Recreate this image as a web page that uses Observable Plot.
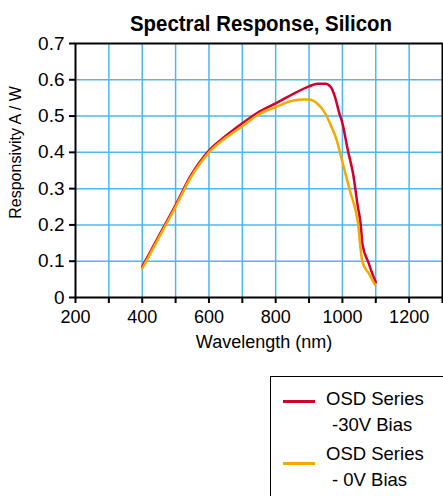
<!DOCTYPE html>
<html>
<head>
<meta charset="utf-8">
<script src="https://cdn.jsdelivr.net/npm/d3@7"></script>
<script src="https://cdn.jsdelivr.net/npm/@observablehq/plot@0.6"></script>
<style>
  html, body { margin: 0; padding: 0; background: #fff; }
  body { width: 443px; height: 496px; position: relative; overflow: hidden; font-family: "Liberation Sans", Arial, Helvetica, sans-serif; }
  #legend { position: absolute; left: 270px; top: 376px; width: 200px; height: 140px; border: 1px solid #000; box-sizing: border-box; background: #fff; }
  .sw { position: absolute; left: 12px; width: 32px; height: 3px; }
  .lt { position: absolute; left: 55px; font-size: 18.5px; line-height: 20px; white-space: nowrap; color: #000; }
</style>
</head>
<body>
<div id="chart"></div>
<div id="legend">
  <div class="sw" style="top:23px;background:#d2002c"></div>
  <div class="lt" style="top:12px">OSD Series</div>
  <div class="lt" style="top:38px;left:61px">-30V Bias</div>
  <div class="sw" style="top:85px;background:#f5a800"></div>
  <div class="lt" style="top:67px">OSD Series</div>
  <div class="lt" style="top:93px;left:61px">- 0V Bias</div>
</div>
<script>
// Wavelength (nm) and responsivity (A/W)
const redWl  = [400, 450, 500, 545, 600, 650, 700, 750, 800, 850, 900, 925, 950, 965, 977, 990, 1000, 1017, 1032, 1046, 1055, 1060, 1079, 1090, 1100];
const redVal = [0.085, 0.17, 0.255, 0.335, 0.405, 0.445, 0.480, 0.512, 0.535, 0.560, 0.582, 0.589, 0.589, 0.580, 0.555, 0.510, 0.480, 0.403, 0.341, 0.252, 0.200, 0.147, 0.094, 0.065, 0.042];
const orgWl  = [400, 450, 500, 545, 600, 650, 700, 750, 800, 850, 880, 900, 923, 950, 965, 981, 999, 1022, 1046, 1060, 1080, 1098];
const orgVal = [0.080, 0.165, 0.250, 0.330, 0.400, 0.440, 0.472, 0.505, 0.525, 0.542, 0.546, 0.546, 0.536, 0.505, 0.475, 0.439, 0.377, 0.296, 0.209, 0.098, 0.065, 0.035];
const xTicks = [200, 300, 400, 500, 600, 700, 800, 900, 1000, 1100, 1200, 1300];
const xLabeled = [200, 400, 600, 800, 1000, 1200];
const yTicks = [0, 0.1, 0.2, 0.3, 0.4, 0.5, 0.6, 0.7];
const title = "Spectral Response, Silicon";
const xLabel = "Wavelength (nm)";
const yLabel = "Responsivity A / W";

const red = redWl.map((w, i) => ({w, v: redVal[i]}));
const org = orgWl.map((w, i) => ({w, v: orgVal[i]}));

const chart = Plot.plot({
  width: 443,
  height: 360,
  marginLeft: 75,
  marginRight: 1,
  marginTop: 43,
  marginBottom: 63,
  style: {fontFamily: '"Liberation Sans", Arial, sans-serif', color: "#000", background: "#fff", overflow: "visible"},
  x: {domain: [200, 1300]},
  y: {domain: [0, 0.7]},
  marks: [
    Plot.gridX(xTicks.slice(1, -1), {stroke: "#4cb8ef", strokeOpacity: 1, strokeWidth: 1.5}),
    Plot.gridY(yTicks.slice(1, -1), {stroke: "#4cb8ef", strokeOpacity: 1, strokeWidth: 1.5}),
    Plot.line(red, {x: "w", y: "v", stroke: "#d2002c", strokeWidth: 2.5, curve: "monotone-x"}),
    Plot.line(org, {x: "w", y: "v", stroke: "#f5a800", strokeWidth: 2.5, curve: "monotone-x"}),
    Plot.frame({stroke: "#000", strokeWidth: 2}),
    Plot.axisX({ticks: xTicks, tickSize: 6, tickPadding: 7, strokeWidth: 2, fontSize: 18, label: null,
      tickFormat: d => xLabeled.includes(d) ? String(d) : ""}),
    Plot.axisY({ticks: yTicks, tickSize: 6, tickPadding: 5, strokeWidth: 2, fontSize: 19, label: null,
      tickFormat: d => d === 0 ? "0" : d.toFixed(1)}),
    Plot.text([title], {frameAnchor: "top", lineAnchor: "middle", dx: 2, dy: -20, fontSize: 22, fontWeight: "bold", fill: "#000"}),
    Plot.text([xLabel], {frameAnchor: "bottom", lineAnchor: "middle", dx: 5, dy: 45, fontSize: 18, fill: "#000"}),
    Plot.text([yLabel], {frameAnchor: "left", dx: -60, dy: -18, rotate: -90, textAnchor: "middle", fontSize: 16, fill: "#000"})
  ]
});
document.getElementById("chart").appendChild(chart);
// condense the title like the reference's narrow bold face
d3.select(chart).selectAll("text").filter(function () { return this.textContent === title; })
  .attr("textLength", 262).attr("lengthAdjust", "spacingAndGlyphs");
</script>
</body>
</html>
